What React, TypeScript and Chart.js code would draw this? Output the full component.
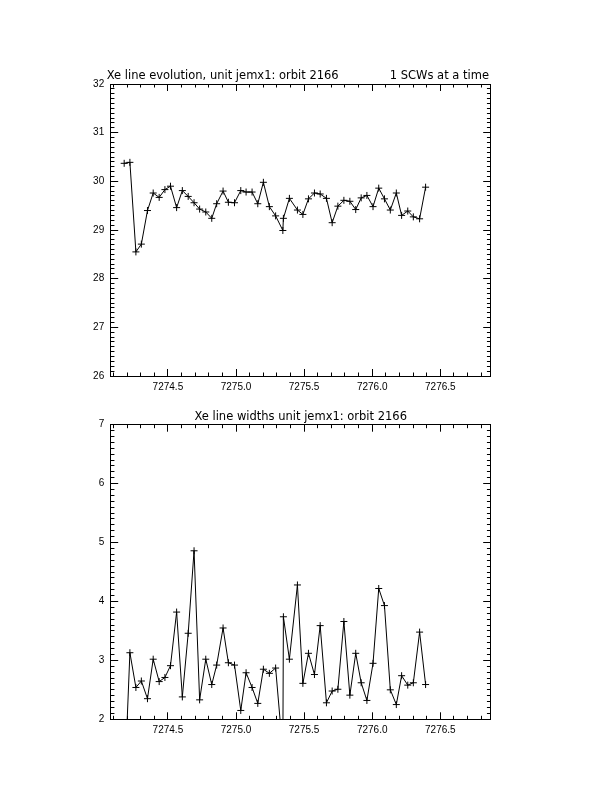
import { useEffect, useRef } from "react";
import Chart from "chart.js/auto";

// time axis (IJD), shared by both panels
const days = [
  7274.179, 7274.221, 7274.265, 7274.305, 7274.35, 7274.392, 7274.436, 7274.478, 7274.519, 7274.564,
  7274.606, 7274.649, 7274.692, 7274.733, 7274.778, 7274.822, 7274.858, 7274.905, 7274.944, 7274.989,
  7275.035, 7275.074, 7275.118, 7275.16, 7275.201, 7275.245, 7275.291, 7275.344, 7275.348, 7275.392,
  7275.451, 7275.491, 7275.532, 7275.576, 7275.618, 7275.664, 7275.706, 7275.748, 7275.792, 7275.836,
  7275.879, 7275.919, 7275.961, 7276.006, 7276.048, 7276.09, 7276.133, 7276.177, 7276.216, 7276.261,
  7276.302, 7276.348, 7276.392,
];

const lineCentre = [
  30.37, 30.39, 28.55, 28.71, 29.4, 29.76, 29.67, 29.83, 29.9, 29.46,
  29.81, 29.69, 29.56, 29.43, 29.37, 29.24, 29.54, 29.8, 29.57, 29.56,
  29.81, 29.78, 29.78, 29.54, 29.98, 29.48, 29.29, 28.99, 29.24, 29.65,
  29.41, 29.32, 29.64, 29.76, 29.74, 29.65, 29.15, 29.49, 29.61, 29.59,
  29.42, 29.66, 29.71, 29.48, 29.86, 29.64, 29.41, 29.76, 29.3, 29.39,
  29.27, 29.23, 29.88,
];

const lineWidth = [
  0.72, 3.13, 2.54, 2.65, 2.35, 3.02, 2.64, 2.71, 2.91, 3.82,
  2.38, 3.46, 4.86, 2.33, 3.02, 2.59, 2.92, 3.55, 2.96, 2.92,
  2.15, 2.79, 2.54, 2.27, 2.85, 2.78, 2.87, 1.44, 3.74, 3.02,
  4.28, 2.61, 3.12, 2.76, 3.59, 2.28, 2.48, 2.51, 3.66, 2.41,
  3.12, 2.62, 2.32, 2.95, 4.22, 3.93, 2.5, 2.25, 2.74, 2.58,
  2.62, 3.48, 2.59,
];

const dayTicks = [7274.5, 7275.0, 7275.5, 7276.0, 7276.5];
const centreTicks = [26, 27, 28, 29, 30, 31, 32];
const widthTicks = [2, 3, 4, 5, 6, 7];

const X_MIN = 7274.08;
const X_MAX = 7276.87;
const PLOT_LEFT = 110.7;
const PLOT_RIGHT = 490.7;
const PANEL_H = 396;
const TICK_FONT = { family: "'Liberation Sans', Arial, sans-serif", size: 10 };
const TITLE_FONT = "'DejaVu Sans', sans-serif";

function stepTicks(min: number, max: number, step: number) {
  const out: { value: number }[] = [];
  for (let k = Math.ceil(min / step - 1e-9); k * step <= max + 1e-9; k++) {
    out.push({ value: +(k * step).toFixed(6) });
  }
  return out;
}

// one IDL-style axis: ticks point inwards; `size` is the box the labels live in
function axis(
  position: string,
  min: number,
  max: number,
  major: number[] | null,
  len: number,
  size = 0,
  fmt?: (v: number) => string
) {
  const horizontal = position === "top" || position === "bottom";
  return {
    type: "linear",
    position,
    min,
    max,
    weight: major ? 1 : 0,
    grid: { drawOnChartArea: false, drawTicks: true, tickLength: -len, tickColor: "#000", tickWidth: 1 },
    border: { display: true, color: "#000", width: 1 },
    afterBuildTicks: (s: any) => {
      s.ticks = major ? major.map((v) => ({ value: v })) : stepTicks(min, max, 0.1);
    },
    afterFit: (s: any) => {
      if (horizontal) s.height = size;
      else s.width = size;
    },
    ticks: {
      display: !!fmt,
      autoSkip: false,
      color: "#000",
      font: TICK_FONT,
      padding: horizontal ? 12.4 : 14,
      ...(fmt ? { callback: (v: any) => fmt(Number(v)) } : {}),
    },
  };
}

function Panel({ values, yMin, yMax, yTicks, top, plotTop, plotBottom }: any) {
  const ref = useRef<HTMLCanvasElement>(null);

  useEffect(() => {
    if (!ref.current) return;
    const bottomBox = PANEL_H - plotBottom;
    const chart = new Chart(ref.current, {
      type: "line",
      data: {
        datasets: [
          {
            data: days.map((x, i) => ({ x, y: values[i] })),
            borderColor: "#000",
            borderWidth: 1,
            tension: 0,
            fill: false,
            pointStyle: "cross",
            pointRadius: 3.5,
            pointBorderColor: "#000",
            pointBackgroundColor: "#000",
            pointBorderWidth: 1,
          },
        ],
      },
      options: {
        responsive: false,
        animation: false,
        events: [],
        layout: { padding: { left: 0, right: 612 - PLOT_RIGHT, top: plotTop, bottom: 0 } },
        plugins: { legend: { display: false }, tooltip: { enabled: false }, title: { display: false } },
        scales: {
          x: axis("bottom", X_MIN, X_MAX, dayTicks, 7, bottomBox, (v) => v.toFixed(1)),
          xMinor: axis("bottom", X_MIN, X_MAX, null, 3.5),
          xTop: axis("top", X_MIN, X_MAX, dayTicks, 7),
          xTopMinor: axis("top", X_MIN, X_MAX, null, 3.5),
          y: axis("left", yMin, yMax, yTicks, 7.5, PLOT_LEFT, (v) => String(Math.round(v))),
          yMinor: axis("left", yMin, yMax, null, 3.75),
          yRight: axis("right", yMin, yMax, yTicks, 7.5),
          yRightMinor: axis("right", yMin, yMax, null, 3.75),
        } as any,
      },
    });
    return () => chart.destroy();
  }, []);

  return (
    <canvas
      ref={ref}
      width={612}
      height={PANEL_H}
      style={{ position: "absolute", left: 0, top, width: 612, height: PANEL_H, display: "block" }}
    />
  );
}

export default function App() {
  const title = {
    position: "absolute" as const,
    fontFamily: TITLE_FONT,
    fontSize: 11.5,
    lineHeight: 1,
    color: "#000",
    whiteSpace: "nowrap" as const,
  };
  return (
    <div style={{ position: "absolute", left: 0, top: 0, width: 612, height: 792, background: "#fff" }}>
      <Panel values={lineCentre} yMin={26} yMax={32} yTicks={centreTicks} top={0} plotTop={84} plotBottom={377.3} />
      <Panel values={lineWidth} yMin={2} yMax={7} yTicks={widthTicks} top={PANEL_H} plotTop={28.7} plotBottom={323.3} />
      <div style={{ ...title, left: 106.7, top: 70.3 }}>Xe line evolution, unit jemx1: orbit 2166</div>
      <div style={{ ...title, right: 612 - 489, top: 70.3 }}>1 SCWs at a time</div>
      <div style={{ ...title, left: 0, width: 601.4, textAlign: "center", top: 411.3 }}>
        Xe line widths unit jemx1: orbit 2166
      </div>
    </div>
  );
}
